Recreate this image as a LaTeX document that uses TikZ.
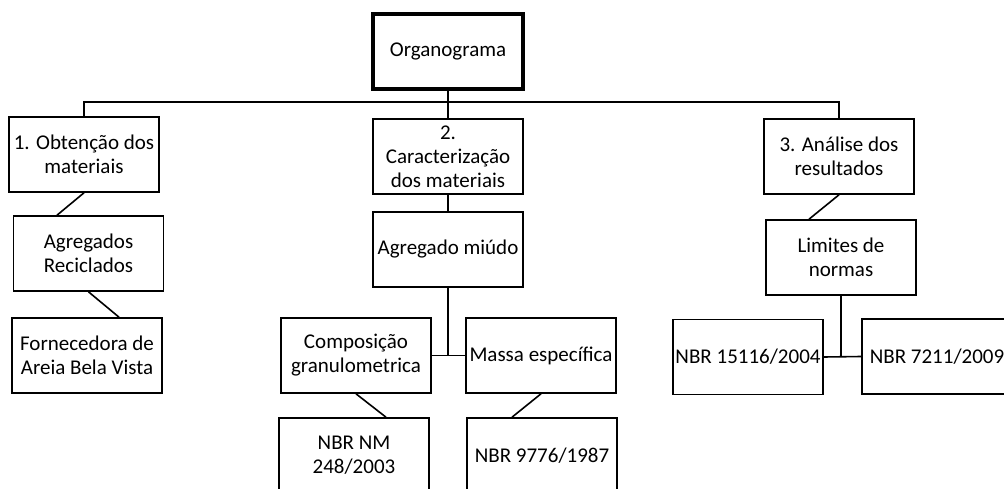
\documentclass[tikz,border=0pt]{standalone}
\usepackage{fontspec}
\setmainfont{Carlito}
\usetikzlibrary{calc}
\begin{document}
\begin{tikzpicture}[x=1pt,y=-1pt,
  box/.style={draw=black,line width=1.6pt,fill=white,minimum width=150pt,minimum height=75pt,
    inner sep=0pt,align=center,font=\fontsize{21}{24}\selectfont},
  topbox/.style={box,line width=4.5pt},
  link/.style={draw=black,line width=1.6pt}]
\useasboundingbox (0,0) rectangle (1004,489);
\clip (0,0) rectangle (1004,489);

% nodes
\node[topbox] (org) at (448,51.5) {Organograma};
\node[box] (b1) at (84,154.5) {1. Obtenção dos\\materiais};
\node[box] (b2) at (448,156.5) {2.\\Caracterização\\dos materiais};
\node[box] (b3) at (839,156.5) {3. Análise dos\\resultados};
\node[box] (agr) at (88.5,253.5) {Agregados\\Reciclados};
\node[box] (forn) at (87,355.5) {Fornecedora de\\Areia Bela Vista};
\node[box] (miudo) at (448,249.5) {Agregado miúdo};
\node[box] (comp) at (356,355.5) {Composição\\granulometrica};
\node[box] (massa) at (541,355.5) {Massa específica};
\node[box] (nbrnm) at (354,455.5) {NBR NM\\248/2003};
\node[box] (nbr9776) at (542,455.5) {NBR 9776/1987};
\node[box] (lim) at (841,257.5) {Limites de\\normas};
\node[box] (nbr15116) at (748,357) {NBR 15116/2004};
\node[box] (nbr7211) at (937,356.5) {NBR 7211/2009};

% connectors
\coordinate (bus) at (448,102);
\draw[link] (org.south) -- (b2.north);
\draw[link] (b1.north) -- (b1.north |- bus) -- (b3.north |- bus) -- (b3.north);
\draw[link] (b1.south) -- ([xshift=-31.5pt]agr.north);
\draw[link] (agr.south) -- ([xshift=32pt]forn.north);
\draw[link] (b2.south) -- (miudo.north);
\draw[link] (miudo.south) -- (miudo.south |- comp.east);
\draw[link] (comp.east) -- (massa.west);
\draw[link] (comp.south) -- ([xshift=32pt]nbrnm.north);
\draw[link] (massa.south) -- ([xshift=-30pt]nbr9776.north);
\draw[link] (b3.south) -- ([xshift=-32pt]lim.north);
\draw[link] (lim.south) -- (lim.south |- nbr15116.east);
\draw[link] (nbr15116.east) -- (nbr7211.west);
\end{tikzpicture}
\end{document}
